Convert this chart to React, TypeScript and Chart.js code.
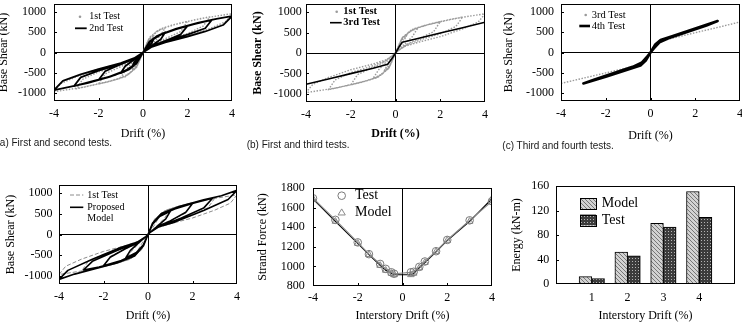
import { useEffect, useRef } from 'react';
import { Chart, registerables } from 'chart.js';

Chart.register(...registerables);

type Pt = [number, number];

// ---- axis ticks ----
const driftTicks = [-4, -2, 0, 2, 4];
const shearTicks = [-1000, -500, 0, 500, 1000];
const strandTicks = [800, 1000, 1200, 1400, 1600, 1800];
const energyTicks = [0, 40, 80, 120, 160];
const driftLevels = [1, 2, 3, 4];

// ---- base shear (kN) vs drift (%) hysteresis paths ----
const firstTest: Pt[] = [
  [0, 0], [0.2, 260], [0.5, 430], [0.35, 280], [0.15, 110], [0, 0],
  [-0.2, -260], [-0.5, -430], [-0.35, -280], [-0.15, -110], [0, 0],
  [0.25, 320], [0.6, 520], [1, 610], [0.75, 400], [0.4, 210], [0.15, 80], [0, 0],
  [-0.25, -320], [-0.6, -520], [-1, -620], [-0.75, -410], [-0.4, -210], [-0.15, -80], [0, 0],
  [0.3, 360], [0.7, 560], [1.2, 660], [2, 770], [1.7, 520], [1.2, 390], [0.6, 240], [0.2, 90], [0, 0],
  [-0.3, -360], [-0.7, -560], [-1.2, -670], [-2, -780], [-1.7, -530], [-1.2, -400], [-0.6, -250], [-0.2, -90], [0, 0],
  [0.3, 370], [0.8, 580], [1.5, 700], [2.3, 800], [3, 880], [2.7, 650], [2, 470], [1.2, 340], [0.5, 200], [0.15, 70], [0, 0],
  [-0.3, -370], [-0.8, -590], [-1.5, -710], [-2.3, -810], [-3, -900], [-2.7, -660], [-2, -480], [-1.2, -350], [-0.5, -210], [-0.15, -70], [0, 0],
  [0.3, 380], [0.8, 590], [1.6, 720], [2.6, 840], [3.4, 910], [4, 960], [3.7, 760], [3, 590], [2, 400], [1, 260], [0.4, 160], [0.1, 50], [0, 0],
  [-0.3, -380], [-0.8, -600], [-1.6, -730], [-2.6, -850], [-3.4, -920], [-4, -970], [-3.7, -770], [-3, -600], [-2, -410], [-1, -270], [-0.4, -160], [-0.1, -50], [0, 0],
];

const secondTest: Pt[] = [
  [0, 0], [0.15, 140], [0.3, 260], [0.5, 360], [0.4, 240], [0.2, 110], [0, 0],
  [-0.15, -140], [-0.3, -260], [-0.5, -370], [-0.4, -245], [-0.2, -110], [0, 0],
  [0.3, 250], [0.6, 400], [1, 500], [0.8, 330], [0.5, 210], [0.2, 90], [0, 0],
  [-0.3, -250], [-0.6, -410], [-1, -510], [-0.8, -340], [-0.5, -215], [-0.2, -90], [0, 0],
  [0.3, 260], [0.7, 420], [1.2, 530], [2, 660], [1.7, 450], [1.2, 330], [0.6, 200], [0.2, 90], [0, 0],
  [-0.3, -260], [-0.7, -430], [-1.2, -545], [-2, -680], [-1.7, -465], [-1.2, -340], [-0.6, -205], [-0.2, -90], [0, 0],
  [0.3, 270], [0.8, 440], [1.5, 580], [2.3, 700], [3.1, 810], [2.8, 600], [2, 440], [1, 280], [0.4, 160], [0, 0],
  [-0.3, -270], [-0.8, -450], [-1.5, -595], [-2.3, -715], [-3.1, -830], [-2.8, -615], [-2, -450], [-1, -290], [-0.4, -160], [0, 0],
  [0.3, 280], [0.8, 450], [1.5, 590], [2.5, 740], [3.3, 830], [4, 900], [3.6, 680], [2.8, 520], [2, 390], [1, 250], [0.4, 140], [0, 0],
  [-0.3, -280], [-0.8, -460], [-1.5, -605], [-2.5, -755], [-3.3, -850], [-4, -930], [-3.6, -700], [-2.8, -540], [-2, -410], [-1, -260], [-0.4, -140], [0, 0],
];

const thirdTest: Pt[] = [
  [-4, -765], [-3, -635], [-2, -505], [-1, -375], [-0.35, -275], [-0.15, -130], [0, 0],
  [0.15, 140], [0.3, 265], [1, 355], [2, 490], [3, 620], [4, 755],
];

const fourthTest: Pt[] = [
  [0, 0], [0.2, 190], [0.45, 310], [1, 410], [2, 595], [3, 780], [2.5, 670], [1.5, 480], [0.8, 350], [0.4, 250], [0.15, 100], [0, 0],
  [-0.2, -190], [-0.45, -320], [-1, -420], [-2, -600], [-3, -765], [-2.5, -665], [-1.5, -480], [-0.8, -355], [-0.4, -255], [-0.15, -100], [0, 0],
];

const proposedModel: Pt[] = [
  [0, 0], [0.2, 240], [0.5, 430], [1, 560], [0.8, 380], [0.4, 190], [0.1, 50], [0, 0],
  [-0.2, -240], [-0.5, -430], [-1, -570], [-0.8, -390], [-0.4, -190], [-0.1, -50], [0, 0],
  [0.2, 250], [0.6, 480], [1.2, 620], [2, 750], [1.7, 540], [1, 330], [0.4, 190], [0.1, 50], [0, 0],
  [-0.2, -250], [-0.6, -480], [-1.2, -630], [-2, -760], [-1.7, -550], [-1, -340], [-0.4, -190], [-0.1, -50], [0, 0],
  [0.2, 260], [0.6, 500], [1.3, 650], [2.2, 780], [2.9, 880], [2.5, 640], [1.5, 400], [0.5, 190], [0.1, 50], [0, 0],
  [-0.2, -260], [-0.6, -500], [-1.3, -660], [-2.2, -790], [-2.9, -860], [-2.5, -650], [-1.5, -410], [-0.5, -190], [-0.1, -50], [0, 0],
  [0.2, 270], [0.6, 510], [1.4, 680], [2.5, 840], [3.3, 940], [4, 1070], [3.6, 850], [2.5, 580], [1.2, 300], [0.5, 190], [0.1, 50], [0, 0],
  [-0.2, -270], [-0.6, -520], [-1.4, -690], [-2.5, -850], [-3.3, -960], [-4, -1090], [-3.6, -870], [-2.5, -600], [-1.2, -310], [-0.5, -190], [-0.1, -50], [0, 0],
];

// ---- strand force (kN) vs interstory drift (%) ----
const strandDrift = [-4, -3, -2, -1.5, -1, -0.75, -0.5, -0.375, 0.375, 0.5, 0.75, 1, 1.5, 2, 3, 4];
const strandTest = [1695, 1475, 1245, 1125, 1025, 975, 940, 925, 940, 945, 995, 1050, 1155, 1270, 1470, 1665];
const strandModel = [1690, 1460, 1235, 1120, 1010, 960, 930, 915, 915, 930, 985, 1040, 1150, 1265, 1460, 1690];

// ---- dissipated energy (kN-m) per drift level ----
const energyModel = [12, 52, 99, 151];
const energyTest = [9, 46, 93, 109];

const SERIF = "'Liberation Serif', 'Times New Roman', serif";
const PAD = 16;

interface Box { L: number; T: number; R: number; B: number; yW: number; xH: number }

function canvasRect(b: Box) {
  return {
    left: b.L - b.yW,
    top: b.T - PAD,
    width: b.yW + (b.R - b.L) + PAD,
    height: PAD + (b.B - b.T) + b.xH,
  };
}

const xy = (pts: Pt[]) => pts.map(([x, y]) => ({ x, y }));

function axis(o: any) {
  const horizontal = o.position === 'bottom';
  return {
    type: 'linear',
    position: o.position,
    min: o.min,
    max: o.max,
    offset: false,
    afterBuildTicks: (s: any) => {
      s.ticks = o.ticks.map((v: number) => ({ value: v }));
    },
    afterFit: (s: any) => {
      if (horizontal) s.height = o.size;
      else s.width = o.size;
    },
    ticks: {
      color: '#000',
      padding: o.tickPad,
      autoSkip: false,
      maxRotation: 0,
      minRotation: 0,
      font: { family: SERIF, size: 12 },
      callback: (v: any) => String(v),
    },
    grid: {
      offset: false,
      drawTicks: false,
      lineWidth: 1,
      color: (c: any) => (o.zero && c.tick && c.tick.value === 0 ? '#000' : 'rgba(0,0,0,0)'),
    },
    border: { display: false },
    title: {
      display: true,
      text: o.title,
      color: '#000',
      padding: horizontal ? { top: 0, bottom: o.titlePad } : { top: o.titlePad, bottom: 0 },
      font: { family: SERIF, size: 12, weight: o.bold ? 'bold' : 'normal' },
    },
  };
}

// plot frame plus short inward tick marks on the left and bottom edges
function makeFrame(inX: boolean, inY: boolean) {
  return {
    id: 'frame',
    afterDatasetsDraw(chart: any) {
      const { ctx, chartArea: a, scales } = chart;
      ctx.save();
      ctx.strokeStyle = '#000';
      ctx.lineWidth = 1;
      ctx.setLineDash([]);
      ctx.strokeRect(a.left + 0.5, a.top + 0.5, a.right - a.left - 1, a.bottom - a.top - 1);
      const len = 3;
      ctx.beginPath();
      if (inX) {
        for (const t of scales.x.ticks) {
          const p = Math.round(scales.x.getPixelForValue(t.value)) + 0.5;
          if (p <= a.left + 2 || p >= a.right - 2) continue;
          ctx.moveTo(p, a.bottom);
          ctx.lineTo(p, a.bottom - len);
        }
      }
      if (inY) {
        for (const t of scales.y.ticks) {
          const p = Math.round(scales.y.getPixelForValue(t.value)) + 0.5;
          if (p <= a.top + 2 || p >= a.bottom - 2) continue;
          ctx.moveTo(a.left, p);
          ctx.lineTo(a.left + len, p);
        }
      }
      ctx.stroke();
      ctx.restore();
    },
  };
}

// in-plot key; each sample is drawn with the style of the dataset it names
function makeKey(items: any[], font: string) {
  return {
    id: 'key',
    afterDraw(chart: any) {
      const { ctx, chartArea: a } = chart;
      ctx.save();
      for (const it of items) {
        const ds = it.ds != null ? chart.data.datasets[it.ds] : null;
        const x = a.left + it.x;
        const y = a.top + it.y;
        if (ds && it.mark === 'dot') {
          ctx.fillStyle = ds.borderColor;
          ctx.beginPath();
          ctx.arc(x, y, 1.3, 0, Math.PI * 2);
          ctx.fill();
        } else if (ds && it.mark === 'line') {
          ctx.strokeStyle = ds.borderColor;
          ctx.lineWidth = ds.borderWidth;
          ctx.setLineDash(ds.borderDash || []);
          ctx.beginPath();
          ctx.moveTo(x, y);
          ctx.lineTo(x + it.len, y);
          ctx.stroke();
          ctx.setLineDash([]);
        } else if (ds && it.mark === 'circle') {
          ctx.strokeStyle = ds.pointBorderColor;
          ctx.lineWidth = 1;
          ctx.beginPath();
          ctx.arc(x, y, ds.pointRadius, 0, Math.PI * 2);
          ctx.stroke();
        } else if (ds && it.mark === 'triangle') {
          const r = ds.pointRadius;
          ctx.strokeStyle = ds.pointBorderColor;
          ctx.lineWidth = 1;
          ctx.beginPath();
          ctx.moveTo(x, y - r);
          ctx.lineTo(x + r * 0.95, y + r * 0.6);
          ctx.lineTo(x - r * 0.95, y + r * 0.6);
          ctx.closePath();
          ctx.stroke();
        } else if (ds && it.mark === 'box') {
          ctx.fillStyle = ds.backgroundColor;
          ctx.fillRect(x, y - it.h / 2, it.w, it.h);
          ctx.strokeStyle = '#000';
          ctx.lineWidth = 1;
          ctx.strokeRect(Math.round(x) + 0.5, Math.round(y - it.h / 2) + 0.5, it.w, it.h);
        }
        if (it.text) {
          ctx.font = font;
          ctx.fillStyle = '#000';
          ctx.textAlign = 'left';
          ctx.textBaseline = 'middle';
          ctx.fillText(it.text, a.left + it.tx, a.top + (it.ty != null ? it.ty : it.y));
        }
      }
      ctx.restore();
    },
  };
}

function baseOptions(box: Box, x: any, y: any) {
  return {
    responsive: false,
    animation: false,
    events: [],
    layout: { padding: { top: PAD, right: PAD, left: 0, bottom: 0 } },
    plugins: { legend: { display: false }, tooltip: { enabled: false } },
    elements: { point: { radius: 0 }, line: { tension: 0 } },
    scales: {
      x: axis({ position: 'bottom', size: box.xH, ...x }),
      y: axis({ position: 'left', size: box.yW, ...y }),
    },
  };
}

function loopSet(pts: Pt[], color: string, width: number, dash?: number[]) {
  return {
    data: xy(pts),
    showLine: true,
    borderColor: color,
    backgroundColor: color,
    borderWidth: width,
    borderDash: dash || [],
    pointRadius: 0,
    fill: false,
    borderJoinStyle: 'round',
  };
}

const GRAY_DOT = '#9a9a9a';

// ---- panel layouts (plot rectangles, axis box sizes) ----
const boxA: Box = { L: 54, T: 4, R: 232, B: 101, yW: 58, xH: 42 };
const boxB: Box = { L: 306, T: 4, R: 485, B: 102, yW: 56, xH: 42 };
const boxC: Box = { L: 561, T: 4, R: 740, B: 101, yW: 60, xH: 43 };
const boxD: Box = { L: 59, T: 185, R: 237, B: 284, yW: 59, xH: 40 };
const boxE: Box = { L: 313, T: 188, R: 492, B: 286, yW: 60, xH: 40 };
const boxF: Box = { L: 556, T: 186, R: 735, B: 284, yW: 48, xH: 40 };

const shearY = { min: -1200, max: 1200, ticks: shearTicks, title: 'Base Shear (kN)', zero: true };
const driftX = { min: -4, max: 4, ticks: driftTicks, zero: true };

function chartA() {
  return {
    type: 'scatter',
    data: {
      datasets: [
        loopSet(secondTest, '#000', 1.8),
        loopSet(firstTest, GRAY_DOT, 1.4, [1.5, 1.5]),
      ],
    },
    plugins: [
      makeFrame(true, true),
      makeKey(
        [
          { ds: 1, mark: 'dot', x: 26, y: 12.7, tx: 35.3, text: '1st Test' },
          { ds: 0, mark: 'line', x: 21, len: 11.7, y: 24.3, tx: 35.3, text: '2nd Test' },
        ],
        `10px ${SERIF}`
      ),
    ],
    options: baseOptions(
      boxA,
      { ...driftX, title: 'Drift (%)', tickPad: 5.8, titlePad: 1.8 },
      { ...shearY, tickPad: 8, titlePad: 0.8 }
    ),
  };
}

function chartB() {
  return {
    type: 'scatter',
    data: {
      datasets: [
        loopSet(thirdTest, '#000', 1.6),
        loopSet(firstTest, GRAY_DOT, 1.4, [1.5, 1.5]),
      ],
    },
    plugins: [
      makeFrame(true, true),
      makeKey(
        [
          { ds: 1, mark: 'dot', x: 30.7, y: 7.7, tx: 37.3, text: '1st Test' },
          { ds: 0, mark: 'line', x: 24, len: 11.7, y: 18.7, tx: 37.3, text: '3rd Test' },
        ],
        `bold 10.5px ${SERIF}`
      ),
    ],
    options: baseOptions(
      boxB,
      { ...driftX, title: 'Drift (%)', bold: true, tickPad: 5.8, titlePad: 3.3 },
      { ...shearY, bold: true, tickPad: 4.3, titlePad: 1.1 }
    ),
  };
}

function chartC() {
  return {
    type: 'scatter',
    data: {
      datasets: [
        loopSet(fourthTest, '#000', 2.6),
        loopSet(thirdTest, GRAY_DOT, 1.4, [1.5, 1.5]),
      ],
    },
    plugins: [
      makeFrame(true, true),
      makeKey(
        [
          { ds: 1, mark: 'dot', x: 24.7, y: 11, tx: 30.7, text: '3rd Test' },
          { ds: 0, mark: 'line', x: 18.3, len: 10.7, y: 22, tx: 30.7, text: '4th Test' },
        ],
        `10.5px ${SERIF}`
      ),
    ],
    options: baseOptions(
      boxC,
      { ...driftX, title: 'Drift (%)', tickPad: 5.8, titlePad: 0.8 },
      { ...shearY, tickPad: 7, titlePad: 0.8 }
    ),
  };
}

function chartD() {
  return {
    type: 'scatter',
    data: {
      datasets: [
        loopSet(proposedModel, '#000', 1.6),
        loopSet(firstTest, '#8c8c8c', 1, [4, 2]),
      ],
    },
    plugins: [
      makeFrame(true, true),
      makeKey(
        [
          { ds: 1, mark: 'line', x: 11, len: 13.3, y: 10, tx: 28.3, text: '1st Test' },
          { ds: 0, mark: 'line', x: 11, len: 13.3, y: 22.3, tx: 28.3, text: 'Proposed' },
          { tx: 28.3, y: 33.3, text: 'Model' },
        ],
        `10px ${SERIF}`
      ),
    ],
    options: baseOptions(
      boxD,
      { ...driftX, title: 'Drift (%)', tickPad: 5.8, titlePad: 1.1 },
      { ...shearY, tickPad: 6.5, titlePad: 3.6 }
    ),
  };
}

function chartE() {
  return {
    type: 'scatter',
    data: {
      datasets: [
        {
          data: strandDrift.map((x, i) => ({ x, y: strandTest[i] })),
          showLine: true,
          borderColor: '#8a8a8a',
          borderWidth: 1.2,
          pointStyle: 'circle',
          pointRadius: 3.8,
          pointBorderColor: '#7a7a7a',
          pointBackgroundColor: 'rgba(255,255,255,0)',
          pointBorderWidth: 1,
        },
        {
          data: strandDrift.map((x, i) => ({ x, y: strandModel[i] })),
          showLine: true,
          borderColor: '#000',
          borderWidth: 1.2,
          pointStyle: 'triangle',
          pointRadius: 3.8,
          pointBorderColor: '#8a8a8a',
          pointBackgroundColor: 'rgba(255,255,255,0)',
          pointBorderWidth: 1,
        },
      ],
    },
    plugins: [
      makeFrame(true, true),
      makeKey(
        [
          { ds: 0, mark: 'circle', x: 28.7, y: 7.7, tx: 42, text: 'Test' },
          { ds: 1, mark: 'triangle', x: 28.7, y: 24.7, tx: 42, text: 'Model' },
        ],
        `14px ${SERIF}`
      ),
    ],
    options: baseOptions(
      boxE,
      { ...driftX, title: 'Interstory Drift (%)', tickPad: 4.4, titlePad: 2.5 },
      { min: 800, max: 1800, ticks: strandTicks, title: 'Strand Force (kN)', zero: false, tickPad: 8.3, titlePad: 2.5 }
    ),
  };
}

function hatchFill(ctx: CanvasRenderingContext2D) {
  const t = document.createElement('canvas');
  t.width = 4;
  t.height = 4;
  const g = t.getContext('2d')!;
  g.fillStyle = '#d2d2d2';
  g.fillRect(0, 0, 4, 4);
  g.strokeStyle = '#777';
  g.lineWidth = 1;
  g.beginPath();
  g.moveTo(0, 0); g.lineTo(4, 4);
  g.moveTo(-1, 3); g.lineTo(1, 5);
  g.moveTo(3, -1); g.lineTo(5, 1);
  g.stroke();
  return ctx.createPattern(t, 'repeat');
}

function dotFill(ctx: CanvasRenderingContext2D) {
  const t = document.createElement('canvas');
  t.width = 3;
  t.height = 3;
  const g = t.getContext('2d')!;
  g.fillStyle = '#3c3c3c';
  g.fillRect(0, 0, 3, 3);
  g.fillStyle = '#b4b4b4';
  g.fillRect(1, 1, 1, 1);
  return ctx.createPattern(t, 'repeat');
}

function chartF(canvas: HTMLCanvasElement) {
  const ctx = canvas.getContext('2d')!;
  const opts: any = baseOptions(
    boxF,
    { min: 0, max: 5, ticks: driftLevels, title: 'Interstory Drift (%)', zero: false, tickPad: 6.2, titlePad: 1.1 },
    { min: 0, max: 160, ticks: energyTicks, title: 'Energy (kN-m)', zero: false, tickPad: 6.7, titlePad: 1.5 }
  );
  return {
    type: 'bar',
    data: {
      datasets: [
        {
          label: 'Model',
          data: driftLevels.map((x, i) => ({ x, y: energyModel[i] })),
          backgroundColor: hatchFill(ctx),
          borderColor: '#000',
          borderWidth: 1,
          barThickness: 12.7,
        },
        {
          label: 'Test',
          data: driftLevels.map((x, i) => ({ x, y: energyTest[i] })),
          backgroundColor: dotFill(ctx),
          borderColor: '#000',
          borderWidth: 1,
          barThickness: 12.7,
        },
      ],
    },
    plugins: [
      makeFrame(false, true),
      makeKey(
        [
          { ds: 0, mark: 'box', x: 24, y: 17.5, w: 16, h: 11, tx: 45.7, text: 'Model' },
          { ds: 1, mark: 'box', x: 24, y: 34, w: 16, h: 11, tx: 45.7, text: 'Test' },
        ],
        `14px ${SERIF}`
      ),
    ],
    options: opts,
  };
}

function Panel({ box, make }: { box: Box; make: (c: HTMLCanvasElement) => any }) {
  const ref = useRef<HTMLCanvasElement | null>(null);
  const r = canvasRect(box);
  useEffect(() => {
    const c = ref.current!;
    const chart = new Chart(c, make(c));
    return () => chart.destroy();
  }, []);
  return (
    <canvas
      ref={ref}
      width={r.width}
      height={r.height}
      style={{ position: 'absolute', left: r.left, top: r.top, width: r.width, height: r.height }}
    />
  );
}

const captionStyle: any = {
  position: 'absolute',
  fontFamily: "'Liberation Sans', Arial, sans-serif",
  fontSize: 10,
  lineHeight: '12px',
  whiteSpace: 'nowrap',
  color: '#1a1a1a',
};

export default function App() {
  return (
    <div
      style={{
        position: 'fixed',
        left: 0,
        top: 0,
        width: 742,
        height: 331,
        overflow: 'hidden',
        background: '#fff',
      }}
    >
      <Panel box={boxA} make={chartA} />
      <Panel box={boxB} make={chartB} />
      <Panel box={boxC} make={chartC} />
      <Panel box={boxD} make={chartD} />
      <Panel box={boxE} make={chartE} />
      <Panel box={boxF} make={chartF} />
      <div style={{ ...captionStyle, left: -3.5, top: 137 }}>(a) First and second tests.</div>
      <div style={{ ...captionStyle, left: 246.7, top: 139 }}>(b) First and third tests.</div>
      <div style={{ ...captionStyle, left: 502.3, top: 140 }}>(c) Third and fourth tests.</div>
    </div>
  );
}
